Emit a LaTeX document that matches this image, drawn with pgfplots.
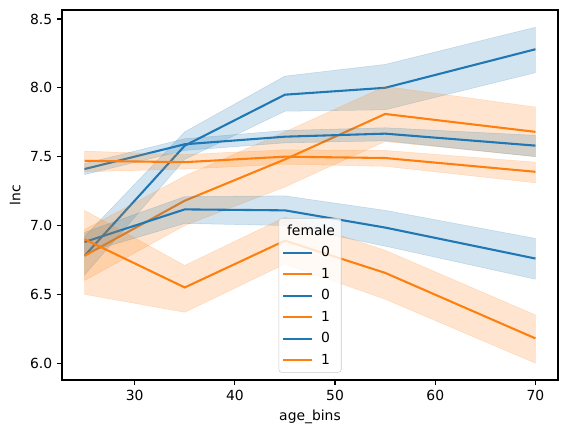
\documentclass[border=0pt]{standalone}
\usepackage{pgfplots}
\pgfplotsset{compat=1.18}
\usepackage{fontspec}
\setmainfont{DejaVu Sans}
\definecolor{tabblue}{HTML}{1F77B4}
\definecolor{taborange}{HTML}{FF7F0E}
\begin{document}
\begin{tikzpicture}
\path[use as bounding box] (-44.64bp,-38.16bp) rectangle (363.6bp,273.6bp);
\begin{axis}[
  scale only axis,
  width=357.12bp, height=266.4bp,
  xmin=22.75, xmax=72.25,
  ymin=5.878, ymax=8.565,
  xtick={30,40,50,60,70},
  ytick={6.0,6.5,7.0,7.5,8.0,8.5},
  yticklabel style={/pgf/number format/.cd,fixed,fixed zerofill,precision=1},
  /pgf/number format/assume math mode=true,
  tick align=outside,
  xtick pos=bottom, ytick pos=left,
  major tick length=3.5bp,
  tick style={black, line width=0.8bp},
  axis line style={line width=0.8bp},
  ticklabel style={font=\fontsize{10bp}{12bp}\selectfont},
  label style={font=\fontsize{10bp}{12bp}\selectfont},
  xlabel={age\_bins},
  ylabel={lnc},
  legend style={at={(0.5,0.02)}, anchor=south, draw=black!20, rounded corners=2bp,
    fill=white, fill opacity=0.8, text opacity=1, font=\fontsize{10bp}{12bp}\selectfont,
    row sep=2.6bp, inner sep=2.5bp},
  legend cell align=left,
  legend image code/.code={\draw[#1] (0bp,0bp)--(21bp,0bp);},
]
\addlegendimage{empty legend}
\addlegendentry{\hspace{-21bp}female}

% ---- set A
\addplot[tabblue, line width=1.5bp] coordinates {(25,6.78) (35,7.58) (45,7.95) (55,8.00) (70,8.28)};
\addlegendentry{\hspace{3.5bp}0}
\addplot[fill=tabblue, fill opacity=0.2, draw=tabblue, draw opacity=0.2, forget plot]
  coordinates {(25,6.92) (35,7.68) (45,8.085) (55,8.17) (70,8.44) (70,8.11) (55,7.84) (45,7.83) (35,7.48) (25,6.64)} -- cycle;

\addplot[taborange, line width=1.5bp] coordinates {(25,6.78) (35,7.18) (45,7.48) (55,7.81) (70,7.68)};
\addlegendentry{\hspace{3.5bp}1}
\addplot[fill=taborange, fill opacity=0.2, draw=taborange, draw opacity=0.2, forget plot]
  coordinates {(25,6.97) (35,7.36) (45,7.68) (55,8.01) (70,7.86) (70,7.50) (55,7.61) (45,7.28) (35,7.00) (25,6.60)} -- cycle;

% ---- set B
\addplot[tabblue, line width=1.5bp] coordinates {(25,7.41) (35,7.59) (45,7.645) (55,7.667) (70,7.58)};
\addlegendentry{\hspace{3.5bp}0}
\addplot[fill=tabblue, fill opacity=0.2, draw=tabblue, draw opacity=0.2, forget plot]
  coordinates {(25,7.45) (35,7.63) (45,7.69) (55,7.71) (70,7.655) (70,7.50) (55,7.615) (45,7.60) (35,7.545) (25,7.37)} -- cycle;

\addplot[taborange, line width=1.5bp] coordinates {(25,7.47) (35,7.46) (45,7.50) (55,7.49) (70,7.39)};
\addlegendentry{\hspace{3.5bp}1}
\addplot[fill=taborange, fill opacity=0.2, draw=taborange, draw opacity=0.2, forget plot]
  coordinates {(25,7.54) (35,7.515) (45,7.55) (55,7.545) (70,7.46) (70,7.31) (55,7.43) (45,7.445) (35,7.41) (25,7.39)} -- cycle;

% ---- set C
\addplot[tabblue, line width=1.5bp] coordinates {(25,6.88) (35,7.117) (45,7.11) (55,6.985) (70,6.76)};
\addlegendentry{\hspace{3.5bp}0}
\addplot[fill=tabblue, fill opacity=0.2, draw=tabblue, draw opacity=0.2, forget plot]
  coordinates {(25,6.95) (35,7.21) (45,7.215) (55,7.11) (70,6.906) (70,6.61) (55,6.85) (45,7.00) (35,7.015) (25,6.80)} -- cycle;

\addplot[taborange, line width=1.5bp] coordinates {(25,6.90) (35,6.55) (45,6.89) (55,6.656) (70,6.18)};
\addlegendentry{\hspace{3.5bp}1}
\addplot[fill=taborange, fill opacity=0.2, draw=taborange, draw opacity=0.2, forget plot]
  coordinates {(25,7.11) (35,6.71) (45,7.06) (55,6.82) (70,6.35) (70,6.00) (55,6.465) (45,6.72) (35,6.37) (25,6.50)} -- cycle;
\end{axis}
\end{tikzpicture}
\end{document}
